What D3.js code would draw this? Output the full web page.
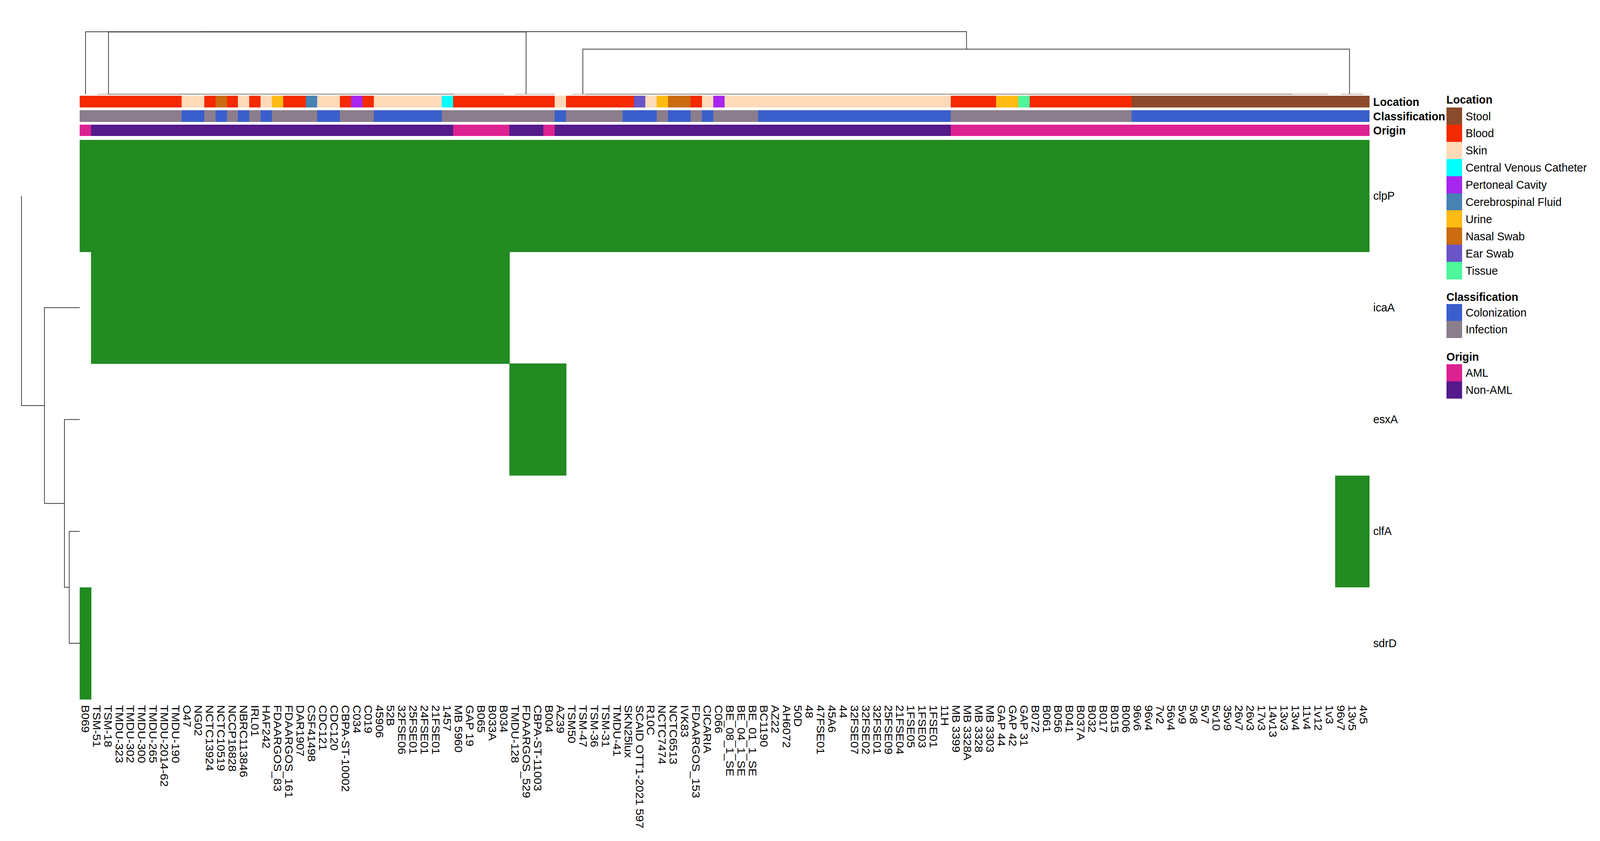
<!DOCTYPE html>
<html>
<head>
<meta charset="utf-8">
<script src="https://cdn.jsdelivr.net/npm/d3@7"></script>
<style>
html,body{margin:0;padding:0;background:#fff;overflow:hidden;}
svg{display:block;width:100vw;height:100vh;}
text{font-family:"Liberation Sans",Arial,sans-serif;fill:#000;}
</style>
</head>
<body>
<svg id="chart" viewBox="0 0 4395 2152" preserveAspectRatio="none"></svg>
<script>
// ---------- DATA ----------
const columns = ["B069","TSM-51","TSM-18","TMDU-323","TMDU-302","TMDU-300","TMDU-265","TMDU-2014-62","TMDU-190","O47","NG02","NCTC13924","NCTC10519","NCCP16828","NBRC113846","IRL01","HAF242","FDAARGOS_83","FDAARGOS_161","DAR1907","CSF41498","CDC121","CDC120","CBPA-ST-10002","C034","C019","45906","52B","32FSE06","25FSE01","24FSE01","21FSE01","1457","MB 5960","GAP 19","B065","B033A","B034","TMDU-128","FDAARGOS_529","CBPA-ST-11003","B004","AZ39","TSM50","TSM-47","TSM-36","TSM-31","TMDU-41","SKN25lux","SCAID OTT1-2021 597","R10C","NCTC7474","NCTC6513","IVK83","FDAARGOS_153","CICARIA","C066","BE_08_1_SE","BE_04_1_SE","BE_01_1_SE","BC1190","AZ22","AH6072","50D","48","47FSE01","45A6","44","32FSE07","32FSE02","32FSE01","25FSE09","21FSE04","1FSE05","1FSE03","1FSE01","11H","MB 3399","MB 3328A","MB 3328","MB 3303","GAP 44","GAP 42","GAP 31","B072","B061","B056","B041","B037A","B032","B017","B015","B006","96v6","96v4","7v2","56v4","5v9","5v8","5v7","5v10","35v9","26v7","26v3","17v3","14v13","13v3","13v4","11v4","1v12","1v3","96v7","13v5","4v5"];
const genes = ["clpP","icaA","esxA","clfA","sdrD"];

// inclusive 1-based column ranges where the gene is present
const clpPRanges = [[1,114]];
const icaARanges = [[2,38]];
const esxARanges = [[39,43]];
const clfARanges = [[112,114]];
const sdrDRanges = [[1,1]];

// annotation tracks as [category, run length] along the columns
const locationRuns = [["Blood",9],["Skin",2],["Blood",1],["Nasal Swab",1],["Blood",1],["Skin",1],["Blood",1],["Skin",1],["Urine",1],["Blood",2],["Cerebrospinal Fluid",1],["Skin",2],["Blood",1],["Pertoneal Cavity",1],["Blood",1],["Skin",6],["Central Venous Catheter",1],["Blood",9],["Skin",1],["Blood",6],["Ear Swab",1],["Skin",1],["Urine",1],["Nasal Swab",2],["Blood",1],["Skin",1],["Pertoneal Cavity",1],["Skin",20],["Blood",4],["Urine",2],["Tissue",1],["Blood",9],["Stool",21]];
const classificationRuns = [["Infection",9],["Colonization",2],["Infection",1],["Colonization",1],["Infection",1],["Colonization",1],["Infection",1],["Colonization",1],["Infection",4],["Colonization",2],["Infection",3],["Colonization",6],["Infection",10],["Colonization",1],["Infection",5],["Colonization",3],["Infection",1],["Colonization",2],["Infection",1],["Colonization",1],["Infection",4],["Colonization",17],["Infection",16],["Colonization",21]];
const originRuns = [["AML",1],["Non-AML",32],["AML",5],["Non-AML",3],["AML",1],["Non-AML",35],["AML",37]];

const locationLevels = ["Stool","Blood","Skin","Central Venous Catheter","Pertoneal Cavity","Cerebrospinal Fluid","Urine","Nasal Swab","Ear Swab","Tissue"];
const locationColors = ["#8B4A2B","#F52A00","#FFDAB9","#00FFFF","#A726F0","#4682B4","#FFBB12","#CC6A10","#6A55C8","#4DF79A"];
const classificationLevels = ["Colonization","Infection"];
const classificationColors = ["#3A5FCD","#8B7D8B"];
const originLevels = ["AML","Non-AML"];
const originColors = ["#DB2290","#551A8B"];
const presenceColor = "#228B22";

// dendrogram merges: [leftPos, leftHeight, rightPos, rightHeight, mergeHeight]; positions in column / row units
const columnMerges = [
  [2.54,0,39.46,0,0.996],
  [0.515,0,20.99,0.996,0.998],
  [10.76,0.998,78.4,0.72,1],
  [44.48,0,112.26,0,0.72]
];
const baselineSolid = [[2.54,33.1],[44.7,107.2]];
const baselineFaint = [[1.54,2.54],[33.1,37.5],[38.5,42],[43.56,44.7],[107.2,110.4],[111.5,113.5]];
const rowMerges = [
  [0.5,1,2.375,0.606,1],
  [1.5,0,3.25,0.2625,0.606],
  [2.5,0,4,0.18,0.2625],
  [3.5,0,4.5,0,0.18]
];

// ---------- LAYOUT ----------
const fontPx = 30.4;
const heatLeft = 219, heatRight = 3761, heatTop = 358, heatBottom = 1789;
const svg = d3.select("#chart");
svg.append("rect").attr("width",4395).attr("height",2152).attr("fill","#fff");

const xBand = d3.scaleBand().domain(columns).range([heatLeft,heatRight]);
const yBand = d3.scaleBand().domain(genes).range([heatTop,heatBottom]);
const xPos = d3.scaleLinear().domain([0,columns.length]).range([heatLeft,heatRight]);
const yPos = d3.scaleLinear().domain([0,genes.length]).range([heatTop,heatBottom]);
const colH = d3.scaleLinear().domain([0,1]).range([241,81]);
const rowH = d3.scaleLinear().domain([0,1]).range([heatLeft,59]);

const expand = runs => runs.flatMap(([k,n]) => d3.range(n).map(() => k));
const inRanges = r => columns.map((_,i) => r.some(([a,b]) => i+1>=a && i+1<=b) ? 1 : 0);

// ---------- HEATMAP ----------
const presence = [clpPRanges,icaARanges,esxARanges,clfARanges,sdrDRanges].map(inRanges);
const heatColor = d3.scaleOrdinal().domain([0,1]).range(["#ffffff",presenceColor]);
const heatG = svg.append("g").attr("shape-rendering","crispEdges");
genes.forEach((g,r) => {
  heatG.selectAll(null).data(presence[r].map((v,i)=>({v,c:columns[i]})).filter(d=>d.v)).join("rect")
    .attr("x",d=>xBand(d.c)).attr("y",yBand(g))
    .attr("width",xBand.bandwidth()+0.5).attr("height",yBand.bandwidth()+0.5)
    .attr("fill",d=>heatColor(d.v));
});

// ---------- ANNOTATION TRACKS ----------
const tracks = [
  {name:"Location",runs:locationRuns,levels:locationLevels,colors:locationColors,top:245,bottom:275},
  {name:"Classification",runs:classificationRuns,levels:classificationLevels,colors:classificationColors,top:282,bottom:312},
  {name:"Origin",runs:originRuns,levels:originLevels,colors:originColors,top:319,bottom:348}
];
tracks.forEach(t => {
  const color = d3.scaleOrdinal().domain(t.levels).range(t.colors);
  const vals = expand(t.runs);
  svg.append("g").attr("shape-rendering","crispEdges").selectAll("rect")
    .data(vals.map((v,i)=>({v,c:columns[i]}))).join("rect")
    .attr("x",d=>xBand(d.c)).attr("y",t.top)
    .attr("width",xBand.bandwidth()+0.5).attr("height",t.bottom-t.top)
    .attr("fill",d=>color(d.v));
  svg.append("text").attr("x",3772).attr("y",(t.top+t.bottom)/2).attr("dy","0.35em")
    .attr("font-size",fontPx).attr("font-weight","bold").text(t.name);
});

// ---------- AXES ----------
const bottomAxis = svg.append("g").attr("transform",`translate(0,${heatBottom})`)
  .call(d3.axisBottom(xBand).tickSize(0));
bottomAxis.select(".domain").remove();
bottomAxis.selectAll("text")
  .attr("font-size",fontPx).attr("font-family",'"Liberation Sans",Arial,sans-serif').attr("fill","#000")
  .attr("text-anchor","start").attr("transform","rotate(90)")
  .attr("x",15).attr("y",0).attr("dy","0.35em");

const rightAxis = svg.append("g").attr("transform",`translate(${heatRight},0)`)
  .call(d3.axisRight(yBand).tickSize(0));
rightAxis.select(".domain").remove();
rightAxis.selectAll("text")
  .attr("font-size",fontPx).attr("font-family",'"Liberation Sans",Arial,sans-serif').attr("fill","#000")
  .attr("x",11);

// ---------- DENDROGRAMS ----------
const dendroStroke = "#3a3a3a";
const colPath = ([l,lh,r,rh,h]) => `M${xPos(l)},${colH(lh)}V${colH(h)}H${xPos(r)}V${colH(rh)}`;
const rowPath = ([t,th,b,bh,h]) => `M${rowH(th)},${yPos(t)}H${rowH(h)}V${yPos(b)}H${rowH(bh)}`;
svg.append("g").selectAll("path").data(baselineFaint).join("path")
  .attr("d",([a,b])=>`M${xPos(a)},${colH(0)}H${xPos(b)}`)
  .attr("stroke","#d2c6c6").attr("stroke-width",3).attr("fill","none");
svg.append("g").selectAll("path").data(baselineSolid).join("path")
  .attr("d",([a,b])=>`M${xPos(a)},${colH(0)}H${xPos(b)}`)
  .attr("stroke","#a3a09c").attr("stroke-width",3).attr("fill","none");
svg.append("g").selectAll("path").data(columnMerges).join("path")
  .attr("d",colPath).attr("stroke",dendroStroke).attr("stroke-width",2).attr("fill","none");
svg.append("g").selectAll("path").data(rowMerges).join("path")
  .attr("d",rowPath).attr("stroke",dendroStroke).attr("stroke-width",2).attr("fill","none");

// ---------- LEGENDS ----------
const legendX = 3973, swatchW = 43, labelX = 4026;
const legendBlocks = [
  {title:"Location",levels:locationLevels,colors:locationColors,titleY:254,top:275,bottom:714},
  {title:"Classification",levels:classificationLevels,colors:classificationColors,titleY:759,top:778,bottom:864},
  {title:"Origin",levels:originLevels,colors:originColors,titleY:912,top:932,bottom:1019}
];
legendBlocks.forEach(b => {
  const y = d3.scaleBand().domain(b.levels).range([b.top,b.bottom]);
  const c = d3.scaleOrdinal().domain(b.levels).range(b.colors);
  const g = svg.append("g");
  g.append("text").attr("x",legendX).attr("y",b.titleY).attr("dy","0.35em")
    .attr("font-size",fontPx).attr("font-weight","bold").text(b.title);
  g.selectAll("rect").data(b.levels).join("rect")
    .attr("x",legendX).attr("y",d=>y(d)).attr("width",swatchW).attr("height",y.bandwidth()+0.5)
    .attr("fill",d=>c(d)).attr("shape-rendering","crispEdges");
  g.selectAll("text.l").data(b.levels).join("text").attr("class","l")
    .attr("x",labelX).attr("y",d=>y(d)+y.bandwidth()/2).attr("dy","0.35em")
    .attr("font-size",fontPx).text(d=>d);
});
</script>
</body>
</html>
